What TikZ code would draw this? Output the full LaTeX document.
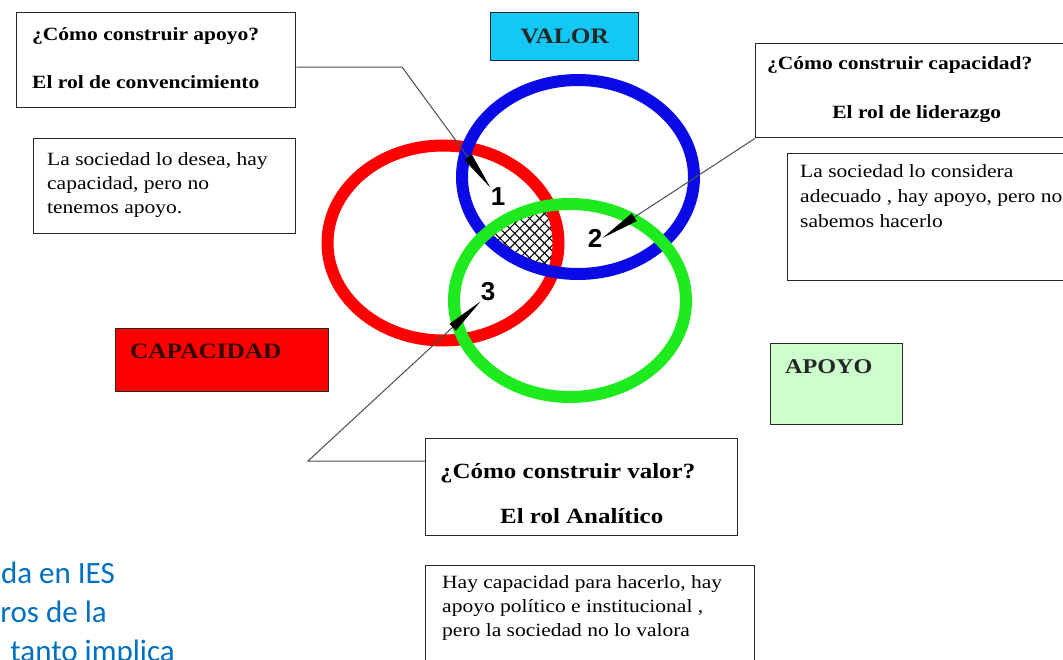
\documentclass[tikz,border=0pt]{standalone}
\usepackage{fontspec}
\setmainfont{Liberation Serif}[FakeStretch=1.15]
\newfontfamily\numfont{Liberation Sans}
\newfontfamily\notefont{Carlito}
\usetikzlibrary{positioning}
\usetikzlibrary{arrows.meta,patterns.meta}

\definecolor{ValorCyan}{RGB}{20,200,245}
\definecolor{ApoyoGreen}{RGB}{204,255,204}
\definecolor{RingRed}{RGB}{255,0,0}
\definecolor{RingBlue}{RGB}{10,10,230}
\definecolor{RingGreen}{RGB}{30,235,30}
\definecolor{NoteBlue}{RGB}{0,112,192}

\tikzset{
    frame/.style={draw=black!85, line width=1.4pt, anchor=north west, inner sep=0pt},
    plain/.style={font=\fontsize{18.7}{24}\selectfont, align=left, inner sep=0pt},
    question/.style={font=\bfseries\fontsize{18.7}{24}\selectfont, inner sep=0pt},
    bigquestion/.style={font=\bfseries\fontsize{21.7}{26}\selectfont, inner sep=0pt},
    ring/.style={line width=12pt},
    callout/.style={draw=black!70, line width=1pt, -{Triangle[length=38pt,width=9pt,color=black]}},
    number/.style={font=\numfont\bfseries\fontsize{26}{26}\selectfont, inner sep=0pt},
    note/.style={font=\notefont\fontsize{31}{38}\selectfont, text=NoteBlue, inner sep=0pt, anchor=base east},
}

\begin{document}
\begin{tikzpicture}[x=1pt, y=-1pt]
    \useasboundingbox (0,0) rectangle (1063,659);

    %Rings
    \begin{scope}
        \clip (443,243) ellipse [x radius=115.5pt, y radius=97.5pt];
        \clip (578,177) ellipse [x radius=116pt, y radius=97pt];
        \fill[pattern={Lines[angle=45,distance=7pt,line width=1.1pt]}] (570,300.5) ellipse [x radius=116pt, y radius=96.5pt];
        \fill[pattern={Lines[angle=-45,distance=7pt,line width=1.1pt]}] (570,300.5) ellipse [x radius=116pt, y radius=96.5pt];
    \end{scope}
    \draw[ring, RingRed] (443,243) ellipse [x radius=115.5pt, y radius=97.5pt];
    \draw[ring, RingBlue] (578,177) ellipse [x radius=116pt, y radius=97pt];
    \draw[ring, RingGreen] (570,300.5) ellipse [x radius=116pt, y radius=96.5pt];

    \node[number] (Num1) at (498,197) {1};
    \node[number] (Num2) at (595,238) {2};
    \node[number] (Num3) at (488,292) {3};

    %Boxes
    \node[frame, minimum width=279pt, minimum height=95pt] (ApoyoBox) at (16,12) {};
    \node[frame, minimum width=262pt, minimum height=95pt] (DeseaBox) at (33,138) {};
    \node[frame, fill=ValorCyan, minimum width=148pt, minimum height=48pt,
          font=\bfseries\fontsize{22}{22}\selectfont, text=black!85] (ValorLabel) at (490,12) {VALOR};
    \node[frame, minimum width=322pt, minimum height=94pt] (CapBox) at (755,43) {};
    \node[frame, minimum width=310pt, minimum height=127pt] (ConsideraBox) at (787,153) {};
    \node[frame, fill=RingRed, minimum width=213pt, minimum height=63pt] (CapacidadLabel) at (115,328) {};
    \node[frame, fill=ApoyoGreen, minimum width=132pt, minimum height=81pt] (ApoyoLabel) at (770,343) {};
    \node[frame, minimum width=312pt, minimum height=97pt] (ValorBox) at (425,438) {};
    \node[frame, minimum width=329pt, minimum height=120pt] (HayBox) at (425,565) {};

    %-------------------------------------------
    %Texts (multi-line ones sit on the baseline of their last line)

    \node[question, below right = 28pt and 16pt of ApoyoBox.north west, anchor=base west] (ApoyoQuestion) {¿Cómo construir apoyo?};
    \node[question, below right = 76pt and 16pt of ApoyoBox.north west, anchor=base west] (ApoyoRole) {El rol de convencimiento};

    \node[plain, below right = 75pt and 14pt of DeseaBox.north west, anchor=base west] (DeseaText)
        {La sociedad lo desea, hay\\capacidad, pero no\\tenemos apoyo.};

    \node[question, below right = 26pt and 12pt of CapBox.north west, anchor=base west] (CapQuestion) {¿Cómo construir capacidad?};
    \node[question, below = 75pt of CapBox.north, anchor=base] (CapRole) {El rol de liderazgo};

    \node[plain, font=\fontsize{18.7}{25}\selectfont, below right = 74pt and 13pt of ConsideraBox.north west, anchor=base west] (ConsideraText)
        {La sociedad lo considera\\adecuado , hay apoyo, pero no\\sabemos hacerlo};

    \node[font=\bfseries\fontsize{22}{22}\selectfont, text=black!80!red, inner sep=0pt,
          below right = 30pt and 15pt of CapacidadLabel.north west, anchor=base west] (CapacidadText) {CAPACIDAD};
    \node[font=\bfseries\fontsize{21}{21}\selectfont, text=black!85, inner sep=0pt,
          below right = 30pt and 15pt of ApoyoLabel.north west, anchor=base west] (ApoyoText) {APOYO};

    \node[bigquestion, below right = 40pt and 15pt of ValorBox.north west, anchor=base west] (ValorQuestion) {¿Cómo construir valor?};
    \node[bigquestion, below = 85pt of ValorBox.north, anchor=base] (ValorRole) {El rol Analítico};

    \node[plain, below right = 71pt and 17pt of HayBox.north west, anchor=base west] (HayText)
        {Hay capacidad para hacerlo, hay\\apoyo político e institucional ,\\pero la sociedad no lo valora};

    \node[note] (NoteLine1) at (115,583) {da en IES};
    \node[note] (NoteLine2) at (107,622) {ros de la};
    \node[note] (NoteLine3) at (175,661) {tanto implica};

    %-------------------------------------------
    %Callouts
    \coordinate (Bend1) at (402,67);
    \coordinate (Bend3) at (308,461);

    \draw[callout] (ApoyoBox.east |- Bend1) -- (Bend1) -- (Num1.north west);
    \draw[callout] (CapBox.south west) -- (Num2.east);
    \draw[callout] (ValorBox.west |- Bend3) -- (Bend3) -- (Num3.south west);

\end{tikzpicture}
\end{document}
